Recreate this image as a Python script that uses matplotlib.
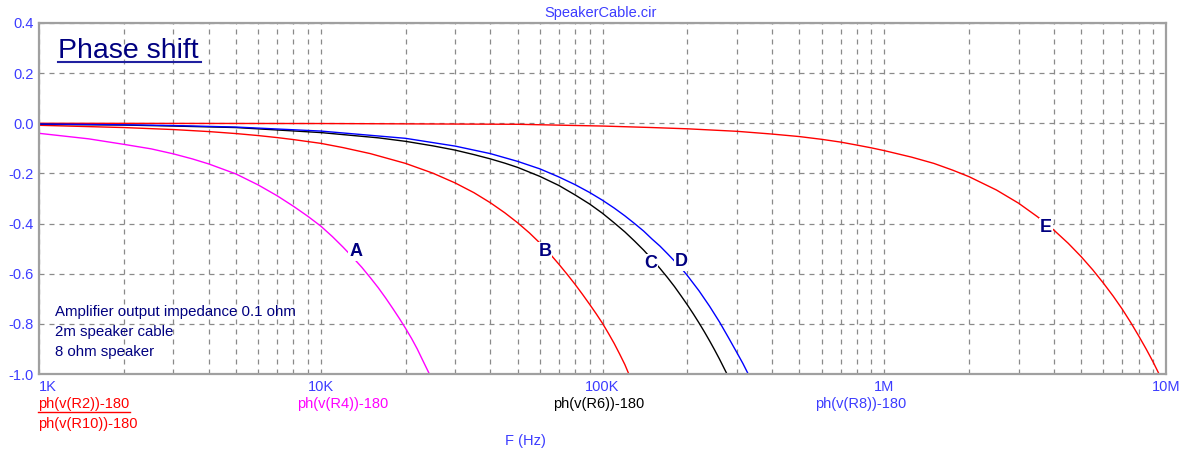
import matplotlib
matplotlib.use('Agg')
import matplotlib.pyplot as plt
from matplotlib.lines import Line2D
from matplotlib.ticker import LogLocator, NullFormatter

# frequencies in kHz, phase in degrees
f_A = [1, 1.5, 2, 2.5, 3, 3.5, 4, 5, 6, 7, 8, 9, 10, 11, 12, 13, 14, 15,
       16, 17, 18, 19, 20, 21, 22, 23, 24.3]
ph_A = [-0.040, -0.062, -0.084, -0.102, -0.122, -0.142, -0.162, -0.202,
        -0.246, -0.289, -0.331, -0.371, -0.410, -0.452, -0.494, -0.535,
        -0.575, -0.616, -0.656, -0.697, -0.738, -0.778, -0.818, -0.858,
        -0.900, -0.945, -1.0]

f_B = [1, 2, 3, 4, 5, 6, 7, 8, 10, 12, 15, 20, 25, 30, 35, 40, 45, 50, 55,
       60, 65, 70, 75, 80, 85, 90, 95, 100, 105, 110, 115, 120, 124]
ph_B = [-0.008, -0.017, -0.025, -0.033, -0.041, -0.049, -0.057, -0.065,
        -0.080, -0.097, -0.121, -0.160, -0.199, -0.238, -0.277, -0.317,
        -0.357, -0.397, -0.437, -0.478, -0.520, -0.562, -0.603, -0.643,
        -0.683, -0.722, -0.760, -0.798, -0.838, -0.878, -0.920, -0.962, -1.0]

f_C = [1, 2, 3, 5, 10, 16, 20, 25, 30, 35, 40, 45, 50, 60, 70, 80, 90, 100,
       110, 120, 130, 140, 150, 160, 170, 180, 190, 200, 210, 220, 230, 240,
       250, 260, 276]
ph_C = [-0.004, -0.007, -0.011, -0.017, -0.037, -0.058, -0.072, -0.090,
        -0.107, -0.125, -0.142, -0.159, -0.176, -0.212, -0.248, -0.286,
        -0.322, -0.359, -0.397, -0.433, -0.470, -0.506, -0.543, -0.579,
        -0.615, -0.651, -0.688, -0.724, -0.760, -0.796, -0.832, -0.868,
        -0.904, -0.940, -0.998]

f_D = [1, 2, 3, 5, 10, 20, 30, 40, 50, 60, 70, 80, 90, 100, 110, 120, 130,
       140, 150, 160, 170, 180, 190, 200, 220, 240, 260, 280, 300, 315, 329]
ph_D = [-0.003, -0.006, -0.009, -0.015, -0.031, -0.060, -0.091, -0.121,
        -0.152, -0.182, -0.214, -0.245, -0.276, -0.307, -0.338, -0.369,
        -0.400, -0.430, -0.462, -0.490, -0.520, -0.549, -0.577, -0.607,
        -0.668, -0.730, -0.792, -0.855, -0.915, -0.958, -1.0]

f_E = [1, 10, 50, 100, 150, 200, 300, 400, 500, 600, 700, 800, 900, 1000,
       1250, 1500, 1750, 2000, 2500, 3000, 3500, 4000, 4500, 5000, 5500,
       6000, 6500, 7000, 7500, 8000, 8500, 9000, 9400]
ph_E = [0.0, -0.001, -0.004, -0.011, -0.017, -0.022, -0.032, -0.043, -0.053,
        -0.064, -0.075, -0.087, -0.098, -0.109, -0.135, -0.160, -0.187,
        -0.213, -0.266, -0.319, -0.373, -0.426, -0.479, -0.532, -0.585,
        -0.638, -0.690, -0.742, -0.795, -0.848, -0.900, -0.952, -0.995]

y_ticks = [0.4, 0.2, 0.0, -0.2, -0.4, -0.6, -0.8, -1.0]
x_ticks = [1, 10, 100, 1000, 10000]
x_labels = ['1K', '10K', '100K', '1M', '10M']

# curve letters: (letter, f kHz, phase)
letters = [('A', 13.3, -0.512), ('B', 62.5, -0.512), ('C', 148, -0.558),
           ('D', 190, -0.552), ('E', 3750, -0.414)]

plt.rcParams['font.family'] = ['Liberation Sans', 'DejaVu Sans']

W, H = 1185, 453
fig = plt.figure(figsize=(W / 100, H / 100), dpi=100)
ax = fig.add_axes([39 / W, 1 - 374 / H, (1166 - 39) / W, (374 - 23) / H])

tick_blue = '#3c3cff'
navy = '#000080'

ax.plot(f_E, ph_E, color='#ff0000', lw=1.0)
ax.plot(f_A, ph_A, color='#ff00ff', lw=1.0)
ax.plot(f_B, ph_B, color='#ff0000', lw=1.0)
ax.plot(f_C, ph_C, color='black', lw=1.0)
ax.plot(f_D, ph_D, color='#0000ff', lw=1.0)

ax.set_xscale('log')
ax.set_xlim(1, 10000)
ax.set_ylim(-1.0, 0.4)
ax.xaxis.set_minor_locator(LogLocator(base=10, subs=range(2, 10)))
ax.xaxis.set_minor_formatter(NullFormatter())
ax.set_xticks(x_ticks)
ax.set_xticklabels(x_labels)
ax.set_yticks(y_ticks)
ax.set_yticklabels(['%.1f' % v for v in y_ticks])
ax.tick_params(which='both', length=0, colors=tick_blue, labelsize=10.5)
ax.tick_params(axis='x', pad=4)
ax.tick_params(axis='y', pad=4)
xl = ax.get_xticklabels()
xl[0].set_horizontalalignment('left')

ax.grid(True, which='both', color='#8a8a8a', linestyle=(0, (4, 4)),
        linewidth=0.9)
for s in ax.spines.values():
    s.set_color('#a0a0a0')
    s.set_linewidth(1.6)

for name, fx, py in letters:
    ax.text(fx, py, name, color=navy, fontsize=13, fontweight='bold',
            ha='center', va='center', zorder=5,
            bbox=dict(facecolor='white', edgecolor='none', pad=0.6))

# title and notes
fig.text(601 / W, 1 - 13 / H, 'SpeakerCable.cir', color=tick_blue,
         fontsize=10.5, ha='center', va='center')
fig.text(58 / W, 1 - 58 / H, 'Phase shift', color=navy, fontsize=20.5,
         ha='left', va='baseline')
fig.add_artist(Line2D([58 / W, 201 / W], [1 - 62 / H, 1 - 62 / H],
                      color='#2020a0', lw=1.5))
notes = ['Amplifier output impedance 0.1 ohm', '2m speaker cable',
         '8 ohm speaker']
for i, line in enumerate(notes):
    fig.text(55 / W, 1 - (312 + 20 * i) / H, line, color=navy,
             fontsize=10.8, ha='left', va='center')

# trace names below the axis
legend = [('ph(v(R2))-180', '#ff0000', 38, 404),
          ('ph(v(R10))-180', '#ff0000', 38, 424),
          ('ph(v(R4))-180', '#ff00ff', 297, 404),
          ('ph(v(R6))-180', 'black', 553, 404),
          ('ph(v(R8))-180', tick_blue, 815, 404)]
for txt, col, px, py in legend:
    fig.text(px / W, 1 - py / H, txt, color=col, fontsize=10.5,
             ha='left', va='center')
fig.add_artist(Line2D([38 / W, 130 / W], [1 - 412 / H, 1 - 412 / H],
                      color='#ff0000', lw=1.0))
fig.text(525 / W, 1 - 441 / H, 'F (Hz)', color=tick_blue, fontsize=10.5,
         ha='center', va='center')

fig.savefig('out.png', dpi=100)
